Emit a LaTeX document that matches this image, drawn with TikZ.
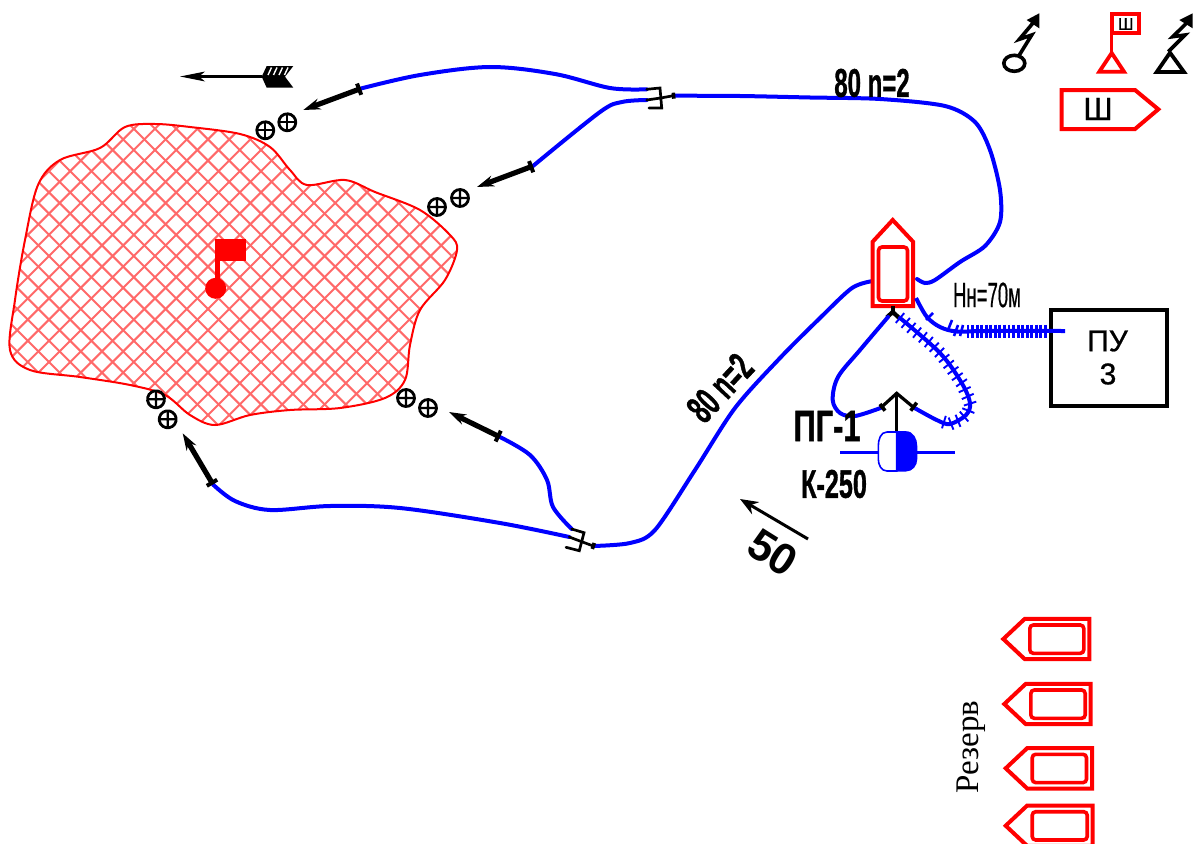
\documentclass[tikz,border=0pt]{standalone}
\usepackage{fontspec}
\usepackage{graphicx}
\setmainfont{Liberation Sans}
\newfontfamily\serifru{Liberation Serif}
\newfontfamily\semi[FakeBold=0.8]{Liberation Sans}
\newfontfamily\heavy[FakeBold=1.2]{Liberation Sans Bold}
\usetikzlibrary{arrows.meta,decorations.pathreplacing}
\definecolor{hatchred}{RGB}{255,105,105}
\tikzset{
  route/.style={draw=blue,line width=4pt,line cap=round},
  tickfine/.style={draw=blue,line width=1.9pt,decorate,decoration={ticks,segment length=7.5pt,amplitude=6.5pt}},
  tickdense/.style={draw=blue,line width=2.9pt,decorate,decoration={ticks,segment length=4.55pt,amplitude=6.5pt}},
  attack/.style={draw=black,line width=5.2pt,{Bar[width=12pt,line width=4pt]}-{Stealth[length=17pt,width=11pt]}},
  fork/.style={draw=black,line width=2.7pt,line cap=round},
  mine/.style={circle,draw=black,line width=2.8pt,minimum size=17pt,inner sep=0pt,
    path picture={\draw[line width=2.2pt] (path picture bounding box.north)--(path picture bounding box.south)
      (path picture bounding box.west)--(path picture bounding box.east);}},
  shipline/.style={draw=red,line width=4pt,fill=white,miter limit=10},
  innerbox/.style={draw=red,line width=3.6pt,rounded corners=3.5pt},
  icon/.style={draw=black,line width=3.6pt},
  lab/.style={inner sep=0pt,text=black},
}
\newcommand{\cnd}[2]{\scalebox{#1}[1]{#2}}
\newcommand{\reserveship}[4]{% tip x, tip y, right x, half height
  \draw[shipline] (#1,#2) -- (#1+21.5,#2-#4) -- (#3,#2-#4) -- (#3,#2+#4) -- (#1+21.5,#2+#4) -- cycle;
  \draw[innerbox] (#1+26.5,#2-14) rectangle (#3-5.5,#2+14.3);}
\begin{document}
\begin{tikzpicture}[x=1pt,y=-1pt]
\useasboundingbox (0,0) rectangle (1198,843);
\fill[white] (0,0) rectangle (1198,843);

% ---------- hatched area ----------
\def\islandpath{plot[smooth cycle,tension=.55] coordinates {
 (125,127) (155,124) (190,127) (240,134) (270,147) (290,170) (307,185) (345,180) (375,192)
 (420,210) (450,235) (457,250) (445,280) (420,310) (410,345) (405,380) (385,398) (340,408)
 (290,410) (250,415) (215,425) (190,415) (165,395) (130,385) (80,377) (30,370) (10,350)
 (15,300) (25,240) (38,185) (60,160) (100,148)}}
\begin{scope}
  \clip \islandpath;
  \foreach \k in {0,...,47}{
    \pgfmathsetmacro{\cc}{305+21.2*(\k-14)}
    \pgfmathsetmacro{\dd}{-101+21.2*(\k-22)}
    \draw[hatchred,line width=2pt] (\cc,0) -- (\cc-600,600);
    \draw[hatchred,line width=2pt] (\dd,0) -- (\dd+600,600);
  }
\end{scope}
\draw[red,line width=2pt] \islandpath;

% flag in area
\fill[red] (215,239) rectangle (246,261);
\fill[red] (215,239) rectangle (219.5,285);
\fill[red] (215.7,288.3) circle (10.5);

% ---------- named points ----------
\coordinate (fa1) at (646.7,89.3);
\coordinate (fa2) at (646.7,100);
\coordinate (fa3) at (649,108);
\coordinate (fas) at (673.3,95.7);
\coordinate (fb1) at (571.7,529);
\coordinate (fb2) at (569.3,537);
\coordinate (fb3) at (566,547.3);
\coordinate (fbs) at (593.3,546);
\coordinate (a1s) at (361,88.5);   \coordinate (a1e) at (303.3,110);
\coordinate (a2s) at (533,166);    \coordinate (a2e) at (477,187);
\coordinate (a3s) at (500,437);    \coordinate (a3e) at (449,412);
\coordinate (a4s) at (213,484.5);  \coordinate (a4e) at (182.7,433.3);
\coordinate (shipR) at (917,279);
\coordinate (shipL) at (873,281);
\coordinate (shipB) at (892.7,306);
\coordinate (pgL) at (880.5,408);
\coordinate (pgR) at (913.7,407.5);
\coordinate (pgTop) at (896.7,393.3);
\coordinate (hookL) at (888,317);
\coordinate (hookR) at (900,318);
\coordinate (puIn) at (1065,331);

% ---------- blue routes ----------
\draw[route] plot[smooth,tension=.5] coordinates {(fas) (740,96) (810,97.5) (880,99) (945,106) (975,122) (990,150) (1000,190) (1000,222) (985,246) (960,262) (935,280) (925,283) (shipR)};
\draw[route] plot[smooth,tension=.5] coordinates {(shipL) (852,288) (820,318) (780,358) (735,408) (695,470) (655,530) (630,543) (fbs)};
\draw[route] plot[smooth,tension=.55] coordinates {(a1s) (420,75) (490,67) (555,74) (610,88) (fa1)};
\draw[route] plot[smooth,tension=.55] coordinates {(a2s) (600,112) (622,102) (fa2)};
\draw[route] plot[smooth,tension=.55] coordinates {(a3s) (530,455) (547,480) (553,507) (fb1)};
\draw[route] plot[smooth,tension=.55] coordinates {(a4s) (235,501) (270,510) (330,506) (400,508) (500,523) (fb2)};

% ---------- black attack arrows ----------
\draw[attack] (a1s) -- (a1e);
\draw[attack] (a2s) -- (a2e);
\draw[attack] (a3s) -- (a3e);
\draw[attack] (a4s) -- (a4e);

% ---------- forks ----------
\draw[fork] (fa1) -- (660,88) -- (661.7,108) -- (fa3);
\draw[fork] (fa2) -- (660.7,98) -- (fas);
\draw[fork,line width=3.6pt,line cap=butt] (fas)++(0,-3) -- ++(0.5,6);
\draw[fork] (fb1) -- (584,532.7) -- (579.3,550.7) -- (fb3);
\draw[fork] (fb2) -- (581.7,541.7) -- (fbs);
\draw[fork,line width=3.6pt,line cap=butt] (fbs)++(1,-3) -- ++(-2,6);

% ---------- mines ----------
\node[mine,rotate=20] (m1) at (265.3,130.3) {};
\node[mine,rotate=20] (m2) at (287.3,122.3) {};
\node[mine,rotate=20] (m3) at (437,207) {};
\node[mine,rotate=20] (m4) at (460,198) {};
\node[mine,rotate=20] (m5) at (406,398) {};
\node[mine,rotate=20] (m6) at (428,408) {};
\node[mine,rotate=10] (m7) at (156,399.3) {};
\node[mine,rotate=10] (m8) at (167.7,419.3) {};

% ---------- pennant arrow ----------
\coordinate (penS) at (262,76.5);
\coordinate (penE) at (180,76.5);
\draw[black,line width=2.2pt] (penS) -- (190,76.5);
\fill[black] (penE) -- (205,71.5) -- (199,76.5) -- (205,81.5) -- cycle;
\fill[black] (266.7,66) -- (293.3,66) -- (285,76.7) -- (293.3,87.7) -- (266.7,87.7) -- (261.7,76.7) -- cycle;
\foreach \xx in {270,275.5,281,286.5}
  \draw[white,line width=1.4pt] (\xx+1.5,67.5) -- (\xx-2,75);

% ---------- flagship ----------
\draw[shipline] (892.7,220) -- (913,241.7) -- (913,306) -- (872.7,306) -- (872.7,241.7) -- cycle;
\draw[innerbox] (878.5,247) rectangle (907.5,301);

% under-ship hook
\draw[black,line width=3.6pt] (shipB) -- (892.7,313);
\draw[black,line width=4.2pt] (886.7,317.5) -- (892.7,312) -- (898.7,317.5);

% ---------- PG-1 ----------
\draw[route] plot[smooth,tension=.55] coordinates {(hookL) (860,350) (838,377) (832.7,400) (840,413) (855,416) (pgL)};
\draw[route] plot[smooth,tension=.55] coordinates {(pgR) (936.7,420) (950,424) (966,415) (970,403) (961.7,383) (940,353) (hookR)};
\draw[tickfine] (hookR) -- (915,331) -- (930,343) -- (940,353) -- (950,366) -- (961.7,383) -- (968,397) -- (970.5,405) -- (967,414) -- (960,420) -- (950,424) -- (937,420);
\draw[black,line width=3.2pt] (pgL) -- (pgTop) -- (pgR);
\draw[black,line width=3.6pt] (880,404) -- (885,410.7);
\draw[black,line width=3.6pt] (916.7,402.7) -- (910.7,410.7);
\draw[black,line width=3pt] (pgTop) -- (896.7,432);
\coordinate (capL) at (878.3,452.7);
\coordinate (capR) at (917.3,452.7);
\draw[blue,line width=3.4pt] (840,452.7) -- (capL);
\draw[blue,line width=3.4pt] (capR) -- (955,452.7);
\fill[white] (896.7,432) -- (887,432) to[out=180,in=90] (878.3,446) -- (878.3,459) to[out=-90,in=180] (887,471) -- (896.7,471) -- cycle;
\draw[blue,line width=1.6pt] (896.7,432) -- (887,432) to[out=180,in=90] (878.3,446) -- (878.3,459) to[out=-90,in=180] (887,471) -- (896.7,471) -- cycle;
\fill[blue] (896.7,431.2) -- (906,431.2) to[out=0,in=90] (917.3,446) -- (917.3,459) to[out=-90,in=0] (906,471.5) -- (896.7,471.5) -- cycle;

% ---------- line to PU ----------
\node[draw=black,line width=4.2pt,minimum width=116pt,minimum height=95.7pt,inner sep=0pt] (pu) at (1108.7,357.8) {};
\node[lab,font=\semi\fontsize{30}{30}\selectfont] (pu1) at (1107.5,341) {ПУ};
\node[lab,font=\semi\fontsize{30}{30}\selectfont] (pu2) at (1108,374) {3};
\draw[route,line cap=butt] plot[smooth,tension=.55] coordinates {(916,298) (926.7,316.7) (940,327) (956.7,331.5) (985,331) (puIn)};
\draw[tickdense] (968,331) -- (1047,331);
\draw[blue,line width=2.6pt] (926,320) -- (933,313);
\draw[blue,line width=2.6pt] (948,330) -- (952,320);
\draw[blue,line width=2.6pt] (954,336) -- (958,325);
\draw[blue,line width=2.6pt] (960,336) -- (963,325);

% ---------- arrow 50 ----------
\coordinate (dS) at (808,539);
\coordinate (dE) at (740,499);
\draw[black,line width=3pt,-{Stealth[length=18pt,width=14pt]}] (dS) -- (dE);

% ---------- labels ----------
\node[lab,font=\heavy\fontsize{40}{40}\selectfont] (l80a) at (872,83) {\cnd{.6}{80 n=2}};
\node[lab,font=\heavy\fontsize{40}{40}\selectfont,rotate=47] (l80b) at (720,388) {\cnd{.6}{80 n=2}};
\node[lab,font=\semi\fontsize{35}{35}\selectfont] (lhn) at (987,295) {\cnd{.53}{Нн=70м}};
\node[lab,font=\heavy\fontsize{44}{44}\selectfont] (lpg) at (827,426) {\cnd{.7}{ПГ-1}};
\node[lab,font=\heavy\fontsize{40}{40}\selectfont] (lk) at (834,484) {\cnd{.63}{К-250}};
\node[lab,font=\fontsize{44}{44}\selectfont\bfseries,rotate=-32] (l50) at (773,553) {50};
\node[lab,font=\serifru\fontsize{33}{33}\selectfont,rotate=90] (lres) at (971,747) {Резерв};

% ---------- top-right icons ----------
\draw[black,line width=3.6pt,fill=white] (1014.3,63.3) ellipse (10.5 and 8);
\draw[icon] (1018.3,56.7) -- (1031.7,35) -- (1019.3,39.3) -- (1033,23);
\fill[black] (1039.3,13.3) -- (1026.7,20) -- (1039.3,28.3) -- cycle;
\draw[black,line width=3.8pt] (1170,52.7) -- (1156.7,72) -- (1184,72) -- cycle;
\draw[icon] (1168.3,51.7) -- (1185,35) -- (1172.7,36.7) -- (1186.7,23);
\fill[black] (1192.7,13.3) -- (1179.3,20) -- (1192.7,28.3) -- cycle;

\draw[red,line width=3.8pt] (1111.7,53) -- (1099.3,71.7) -- (1124,71.7) -- cycle;
\draw[red,line width=3.4pt] (1111.7,53) -- (1111.7,14);
\draw[red,line width=4pt,fill=white] (1111.7,14) rectangle (1139.3,33);
\node[lab,font=\semi\fontsize{17}{17}\selectfont] (lsh1) at (1125.7,24) {Ш};

\draw[shipline] (1061.7,90) -- (1135,90) -- (1158.3,109.3) -- (1135,129) -- (1061.7,129) -- cycle;
\node[lab,font=\semi\fontsize{32}{32}\selectfont] (lsh2) at (1098,109) {Ш};

% ---------- reserve ----------
\reserveship{1003.3}{639}{1089.3}{20.2}
\reserveship{1004.3}{704}{1090.7}{20.2}
\reserveship{1005.7}{768.3}{1092}{20.2}
\reserveship{1005.7}{825.7}{1092.7}{20.2}
\end{tikzpicture}
\end{document}
